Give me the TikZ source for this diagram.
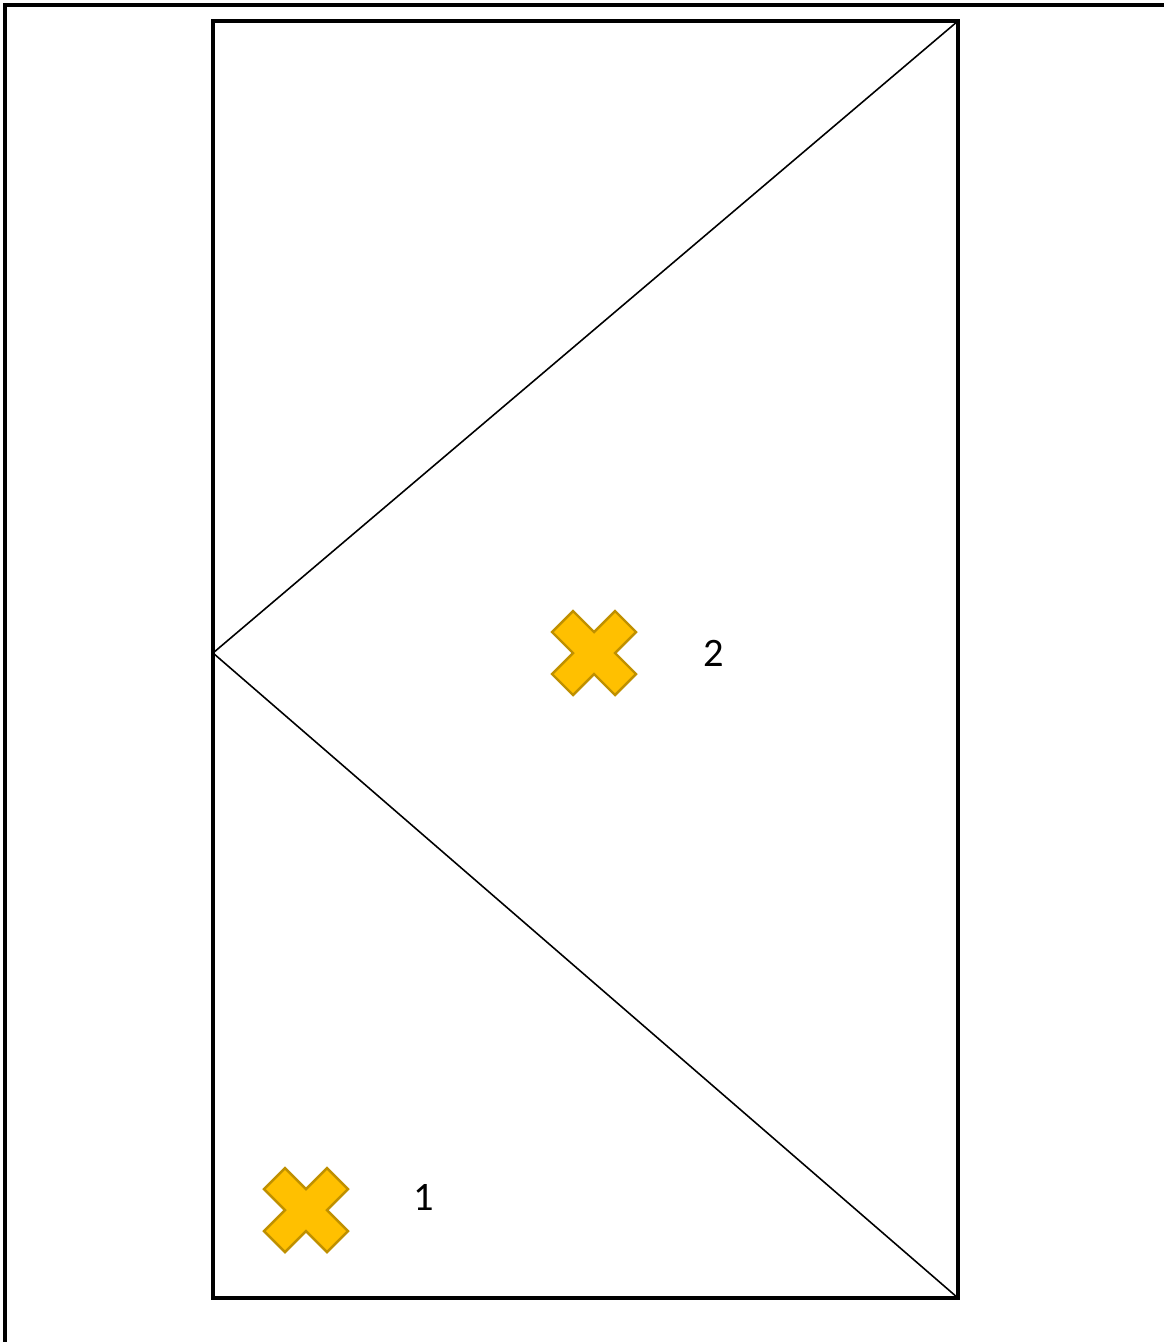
\documentclass[tikz,border=0pt]{standalone}
\usepackage{fontspec}
\setmainfont{Carlito}
\usetikzlibrary{positioning}
\definecolor{crossfill}{RGB}{255,192,0}
\definecolor{crossline}{RGB}{191,144,0}
\tikzset{
  outer/.style={draw=black, line width=2.2pt},
  frame/.style={draw=black, line width=2.6pt},
  edge/.style={draw=black, line width=0.9pt},
  lbl/.style={font=\fontsize{23}{27}\selectfont, inner sep=0pt},
  xsign/.pic={
    \draw[crossline, fill=crossfill, line width=1.4pt, line join=miter]
      (0,-21) -- (21,-42) -- (42,-21) -- (21,0) -- (42,21) -- (21,42)
      -- (0,21) -- (-21,42) -- (-42,21) -- (-21,0) -- (-42,-21)
      -- (-21,-42) -- cycle;
  }
}
\begin{document}
\begin{tikzpicture}[x=0.02cm, y=-0.02cm]
  \useasboundingbox (0,0) rectangle (1164,1342);
  % page edge (only top and left show)
  \coordinate (pagetl) at (5,5);
  \coordinate (pagetr) at (1164,5);
  \coordinate (pagebl) at (5,1342);
  \draw[outer] (pagebl) -- (pagetl) -- (pagetr);

  % room
  \coordinate (tl) at (213,21);
  \coordinate (tr) at (958,21);
  \coordinate (br) at (958,1298);
  \coordinate (bl) at (213,1298);
  \coordinate (apex) at (213,653);
  \draw[frame] (tl) -- (tr) -- (br) -- (bl) -- cycle;
  \draw[edge] (tr) -- (apex) -- (br);

  % positions
  \pic at (594,653) {xsign};
  \pic at (306,1210) {xsign};
  \node[lbl] (pos2) at (714,653) {2};
  \node[lbl] (pos1) at (424,1197) {1};
\end{tikzpicture}
\end{document}
